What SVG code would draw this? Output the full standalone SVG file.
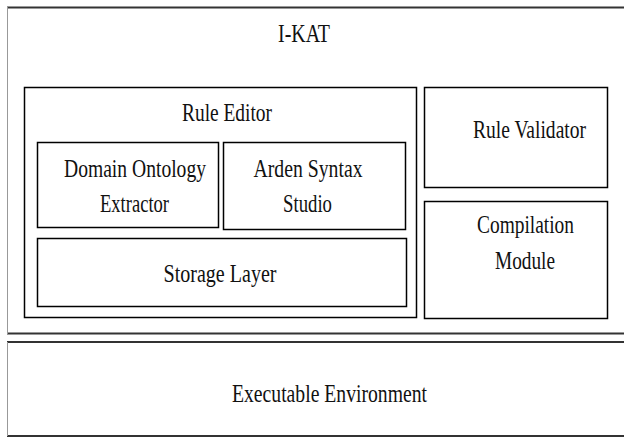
<svg xmlns="http://www.w3.org/2000/svg" width="624" height="438" viewBox="0 0 624 438">
<style>
.box{fill:#fff;stroke:#000;stroke-width:1.5}
.t{font-size:25px;fill:#111;text-anchor:middle}
.edge{stroke:#333;stroke-width:2}
.side{stroke:#999;stroke-width:1}
</style>
<rect width="624" height="438" fill="#fff"/>
<g font-family="Liberation Serif, DejaVu Serif, serif">
<g id="ikat">
<line class="edge" x1="7" y1="7.5" x2="624" y2="7.5"/>
<line class="edge" x1="7" y1="333.5" x2="624" y2="333.5"/>
<line class="side" x1="7.5" y1="7" x2="7.5" y2="334"/>
<text class="t" x="304" y="42" textLength="52" lengthAdjust="spacingAndGlyphs">I-KAT</text>
</g>
<g id="rule-editor">
<rect class="box" x="24.5" y="87.5" width="392" height="230"/>
<text class="t" x="227" y="121" textLength="90" lengthAdjust="spacingAndGlyphs">Rule Editor</text>
</g>
<g id="domain-ontology-extractor">
<rect class="box" x="37.5" y="142.5" width="181" height="85"/>
<text class="t" x="135" y="177" textLength="142" lengthAdjust="spacingAndGlyphs">Domain Ontology</text>
<text class="t" x="134.5" y="212" textLength="69" lengthAdjust="spacingAndGlyphs">Extractor</text>
</g>
<g id="arden-syntax-studio">
<rect class="box" x="223.5" y="142.5" width="182" height="87"/>
<text class="t" x="308" y="177" textLength="109" lengthAdjust="spacingAndGlyphs">Arden Syntax</text>
<text class="t" x="307.5" y="212" textLength="49" lengthAdjust="spacingAndGlyphs">Studio</text>
</g>
<g id="storage-layer">
<rect class="box" x="37.5" y="238.5" width="369" height="68"/>
<text class="t" x="220" y="282" textLength="113" lengthAdjust="spacingAndGlyphs">Storage Layer</text>
</g>
<g id="rule-validator">
<rect class="box" x="424.5" y="87.5" width="183" height="100"/>
<text class="t" x="529.5" y="138" textLength="113" lengthAdjust="spacingAndGlyphs">Rule Validator</text>
</g>
<g id="compilation-module">
<rect class="box" x="424.5" y="201.5" width="183" height="117"/>
<text class="t" x="525.5" y="233" textLength="97" lengthAdjust="spacingAndGlyphs">Compilation</text>
<text class="t" x="525" y="269" textLength="60" lengthAdjust="spacingAndGlyphs">Module</text>
</g>
<g id="executable-environment">
<line class="edge" x1="7" y1="342" x2="624" y2="342"/>
<line class="edge" x1="7" y1="436" x2="624" y2="436" stroke="#000"/>
<line class="side" x1="7.5" y1="342" x2="7.5" y2="436"/>
<text class="t" x="329.5" y="402" textLength="195" lengthAdjust="spacingAndGlyphs">Executable Environment</text>
</g>
</g>
<g id="connectors"></g>
</svg>
